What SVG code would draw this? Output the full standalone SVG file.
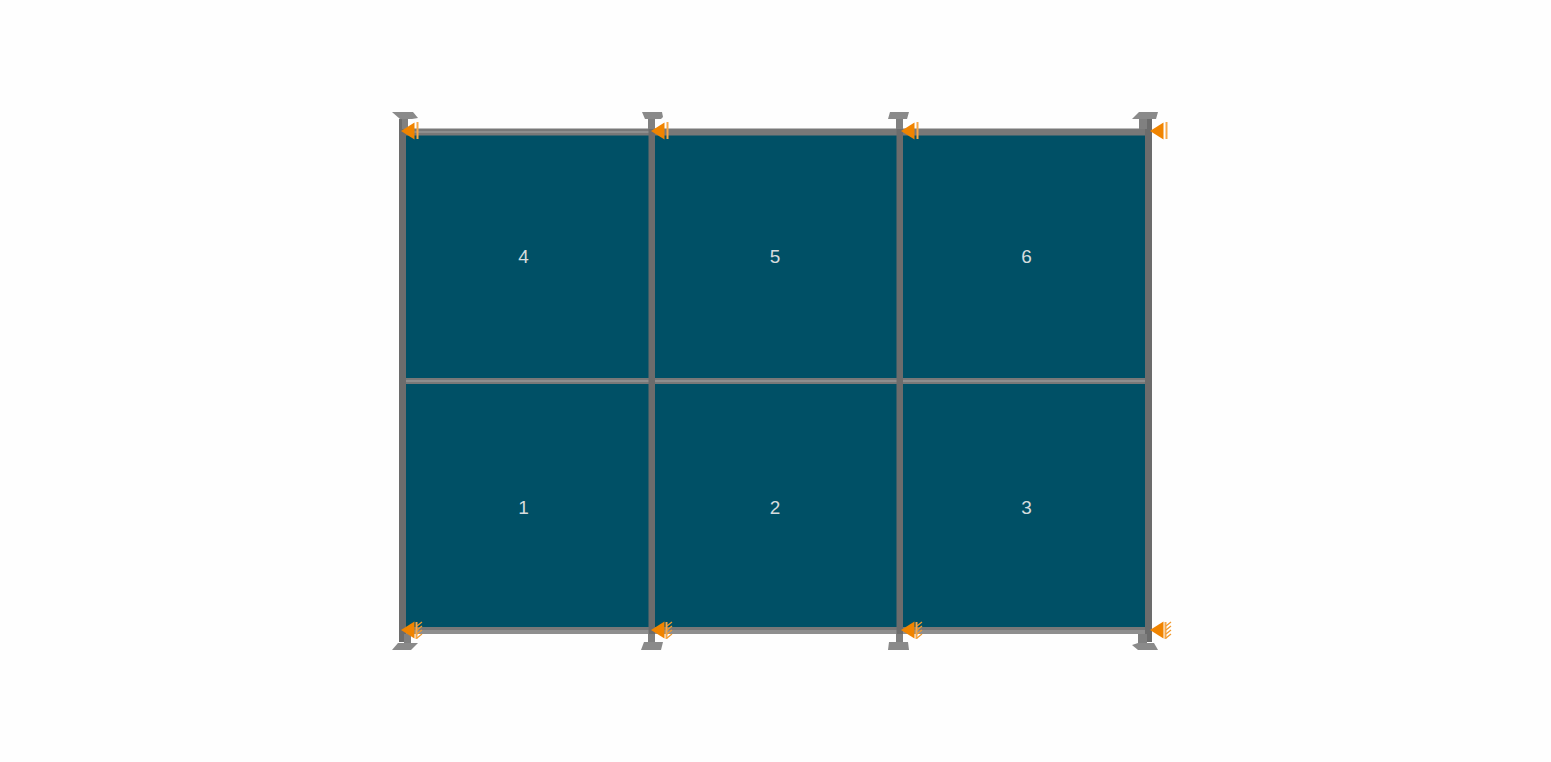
<svg xmlns="http://www.w3.org/2000/svg" width="1551" height="762" viewBox="0 0 1551 762">
<style>
.panel{fill:#005066}
.col{fill:#6c6c6c}
.rail{fill:#787878}
.hi{fill:#8e8e8e}
.cap{fill:#8a8a8a}
.stem{fill:#808080}
.lbl{font-family:"Liberation Sans",Arial,sans-serif;font-size:19px;fill:#d6dcde;text-anchor:middle}
.tri{fill:#f08400}
.bar{stroke:#f6a84a;stroke-width:2;fill:none}
.hat{stroke:#f29a2e;stroke-width:1.3;fill:none}
</style>
<defs>
<g id="sup-top"><path class="bar" d="M16.500 -9V8"/><path class="tri" d="M0 0L13.500 -8.500V8.500Z"/></g>
<g id="sup-bot"><path class="bar" d="M15.500 -8V9"/><path class="hat" d="M16 -4L21 -8M16 0L21 -4M16 4L21 0M16 8L21 4"/><path class="tri" d="M0 0L13.500 -8.500V8.500Z"/></g>
</defs>
<rect width="1551" height="762" fill="#fefefe"/>
<g id="panel-4"><rect class="panel" x="405" y="134" width="245" height="245"/><text class="lbl" x="523.500" y="263">4</text></g>
<g id="panel-5"><rect class="panel" x="653" y="134" width="245" height="245"/><text class="lbl" x="775" y="263">5</text></g>
<g id="panel-6"><rect class="panel" x="901" y="134" width="245" height="245"/><text class="lbl" x="1026.500" y="263">6</text></g>
<g id="panel-1"><rect class="panel" x="405" y="383" width="245" height="245"/><text class="lbl" x="523.500" y="514">1</text></g>
<g id="panel-2"><rect class="panel" x="653" y="383" width="245" height="245"/><text class="lbl" x="775" y="514">2</text></g>
<g id="panel-3"><rect class="panel" x="901" y="383" width="245" height="245"/><text class="lbl" x="1026.500" y="514">3</text></g>
<g id="connectors">
<rect class="rail" x="405" y="128.500" width="742" height="7"/>
<rect class="hi" x="405" y="131" width="245" height="2"/>
<rect class="rail" x="405" y="378" width="742" height="6"/>
<rect class="hi" x="405" y="380" width="742" height="2"/>
<rect class="rail" x="405" y="627" width="742" height="7"/>
<rect class="hi" x="405" y="630" width="742" height="4"/>
<rect class="col" x="399" y="119" width="7" height="523"/>
<rect class="col" x="648.500" y="119" width="6.500" height="523"/>
<rect class="col" x="896.500" y="119" width="6.500" height="523"/>
<rect class="col" x="1145" y="119" width="7" height="523"/>
</g>
<g id="cap-top-1"><rect class="stem" x="402" y="118" width="6" height="11"/><path class="cap" d="M392 112H413L418 118L412 119H400Z"/></g>
<g id="cap-top-2"><rect class="stem" x="648" y="118" width="7" height="11"/><path class="cap" d="M642 112H662L663 117L661 119H645Z"/></g>
<g id="cap-top-3"><rect class="stem" x="896" y="118" width="7" height="11"/><path class="cap" d="M890 112H909L907 119H888Z"/></g>
<g id="cap-top-4"><rect class="stem" x="1139" y="118" width="8" height="11"/><path class="cap" d="M1139 112H1158L1156 119H1132Z"/></g>
<g id="cap-bot-1"><rect class="stem" x="404" y="634" width="7" height="9"/><path class="cap" d="M398 643H418L411 650H392Z"/></g>
<g id="cap-bot-2"><rect class="stem" x="648" y="634" width="7" height="9"/><path class="cap" d="M644 642H663L661 650H641Z"/></g>
<g id="cap-bot-3"><rect class="stem" x="896" y="634" width="7" height="9"/><path class="cap" d="M889 642H908L909 650H888Z"/></g>
<g id="cap-bot-4"><rect class="stem" x="1138" y="634" width="9" height="9"/><path class="cap" d="M1138 643H1154L1158 650H1138L1132 645Z"/></g>
<g id="support-top-1"><use href="#sup-top" x="401" y="131"/></g>
<g id="support-top-2"><use href="#sup-top" x="651" y="131"/></g>
<g id="support-top-3"><use href="#sup-top" x="901" y="131"/></g>
<g id="support-top-4"><use href="#sup-top" x="1150" y="131"/></g>
<g id="support-bot-1"><use href="#sup-bot" x="401" y="630"/></g>
<g id="support-bot-2"><use href="#sup-bot" x="651" y="630"/></g>
<g id="support-bot-3"><use href="#sup-bot" x="901" y="630"/></g>
<g id="support-bot-4"><use href="#sup-bot" x="1150" y="630"/></g>
</svg>
